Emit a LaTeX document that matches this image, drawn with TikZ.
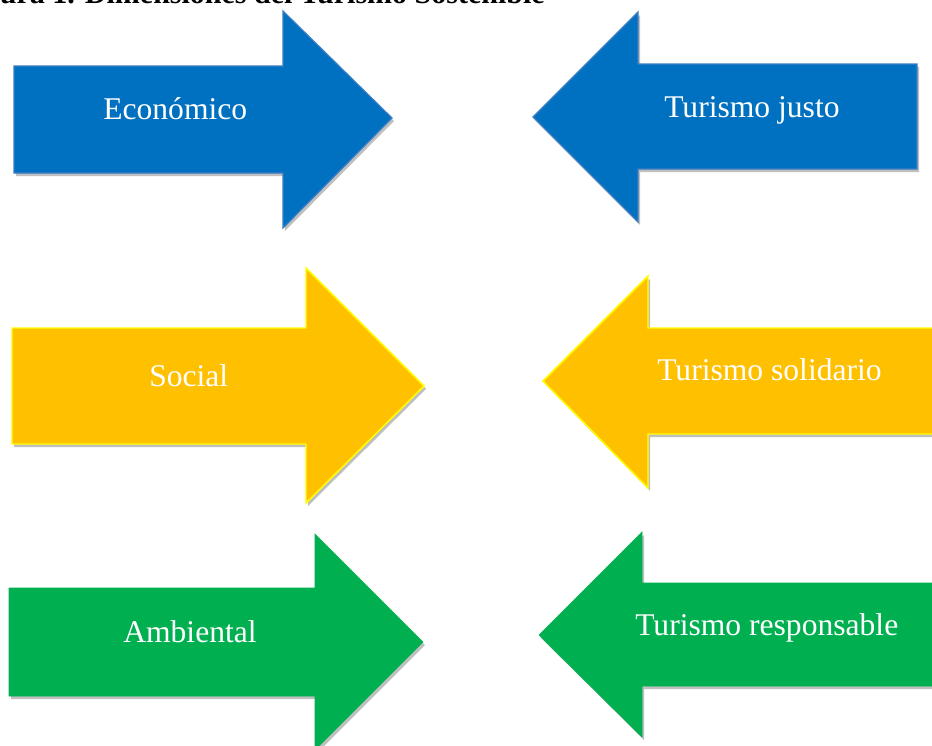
\documentclass[tikz,border=0pt]{standalone}
\usepackage{fontspec}
\setmainfont{Liberation Serif}
\definecolor{ablue}{HTML}{0070C0}
\definecolor{abluerim}{HTML}{3B7DC4}
\definecolor{ayellow}{HTML}{FFC000}
\definecolor{ayellowrim}{HTML}{FFFF00}
\definecolor{agreen}{HTML}{00B050}
\begin{document}
\begin{tikzpicture}[x=0.75pt,y=-0.75pt,
  shade/.style={fill=black,opacity=0.25,shift={(2,3)}},
  bluearrow/.style={fill=ablue,draw=abluerim,line width=0.9pt,line join=miter},
  yellowarrow/.style={fill=ayellow,draw=ayellowrim,line width=1.1pt,line join=miter},
  greenarrow/.style={fill=agreen,draw=agreen,line width=0.5pt,line join=miter},
  label/.style={text=white,font=\fontsize{23.7pt}{28pt}\selectfont,inner sep=0pt},
  title/.style={text=black,font=\fontsize{22.5pt}{27pt}\selectfont\bfseries,inner sep=0pt}]
\useasboundingbox (0,0) rectangle (932,746);
\clip (0,0) rectangle (932,746);
\fill[white] (0,0) rectangle (932,746);

% title (cut off at top, as in the reference)
\node[title,anchor=base east] (title) at (545,3.2) {Figura 1. Dimensiones del Turismo Sostenible};

% Row 1
\fill[shade] (14,66)--(283,66)--(283,11)--(392,118)--(283,228)--(283,173)--(14,173)--cycle;
\draw[bluearrow] (14,66)--(283,66)--(283,11)--(392,118)--(283,228)--(283,173)--(14,173)--cycle;
\node[label,anchor=base west] (eco) at (103,119) {Económico};

\fill[shade] (917,64)--(638,64)--(638,12)--(533,117)--(638,222)--(638,169)--(917,169)--cycle;
\draw[bluearrow] (917,64)--(638,64)--(638,12)--(533,117)--(638,222)--(638,169)--(917,169)--cycle;
\node[label,anchor=base west] (justo) at (664,117) {Turismo justo};

% Row 2
\fill[shade] (12,328)--(306,328)--(306,268)--(424,386)--(306,503)--(306,444)--(12,444)--cycle;
\draw[yellowarrow] (12,328)--(306,328)--(306,268)--(424,386)--(306,503)--(306,444)--(12,444)--cycle;
\node[label,anchor=base west] (social) at (149,386) {Social};

\fill[shade] (940,328)--(648,328)--(648,276)--(543,381)--(648,488)--(648,434)--(940,434)--cycle;
\draw[yellowarrow] (940,328)--(648,328)--(648,276)--(543,381)--(648,488)--(648,434)--(940,434)--cycle;
\node[label,anchor=base west] (solid) at (657,380) {Turismo solidario};

% Row 3
\fill[shade] (9,588)--(315,588)--(315,534)--(423,642)--(315,750)--(315,696)--(9,696)--cycle;
\draw[greenarrow] (9,588)--(315,588)--(315,534)--(423,642)--(315,750)--(315,696)--(9,696)--cycle;
\node[label,anchor=base west] (amb) at (123,642) {Ambiental};

\fill[shade] (940,583)--(642,583)--(642,532)--(539,635)--(642,737)--(642,686)--(940,686)--cycle;
\draw[greenarrow] (940,583)--(642,583)--(642,532)--(539,635)--(642,737)--(642,686)--(940,686)--cycle;
\node[label,anchor=base west] (resp) at (635,635) {Turismo responsable};
\end{tikzpicture}
\end{document}
